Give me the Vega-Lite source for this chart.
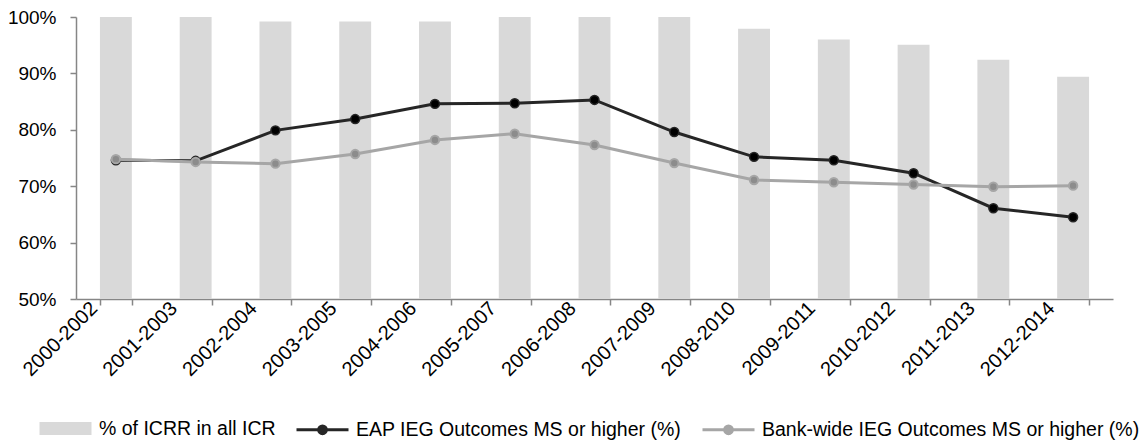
{
  "$schema": "https://vega.github.io/schema/vega-lite/v6.json",
  "autosize": {"type": "none"},
  "padding": {"left": 76, "top": 17, "right": 29, "bottom": 148},
  "width": 1037,
  "height": 282,
  "background": "white",
  "config": {
    "view": {"stroke": null},
    "font": "Liberation Sans, Arial, sans-serif",
    "axis": {
      "labelFont": "Liberation Sans, Arial, sans-serif",
      "labelFontSize": 19,
      "labelColor": "#000000",
      "domainColor": "#868686",
      "domainWidth": 1.5,
      "tickColor": "#868686",
      "tickWidth": 1.5,
      "tickSize": 6,
      "grid": false,
      "title": null
    },
    "legend": {
      "labelFont": "Liberation Sans, Arial, sans-serif",
      "labelFontSize": 19.5,
      "labelColor": "#000000",
      "labelLimit": 0,
      "padding": 0
    }
  },
  "data": {
    "values": [
      {"period": "2000-2002", "series": "% of ICRR in all ICR", "value": 100},
      {"period": "2001-2003", "series": "% of ICRR in all ICR", "value": 100},
      {"period": "2002-2004", "series": "% of ICRR in all ICR", "value": 99.2},
      {"period": "2003-2005", "series": "% of ICRR in all ICR", "value": 99.2},
      {"period": "2004-2006", "series": "% of ICRR in all ICR", "value": 99.2},
      {"period": "2005-2007", "series": "% of ICRR in all ICR", "value": 100},
      {"period": "2006-2008", "series": "% of ICRR in all ICR", "value": 100},
      {"period": "2007-2009", "series": "% of ICRR in all ICR", "value": 100},
      {"period": "2008-2010", "series": "% of ICRR in all ICR", "value": 97.9},
      {"period": "2009-2011", "series": "% of ICRR in all ICR", "value": 96.0},
      {"period": "2010-2012", "series": "% of ICRR in all ICR", "value": 95.1},
      {"period": "2011-2013", "series": "% of ICRR in all ICR", "value": 92.4},
      {"period": "2012-2014", "series": "% of ICRR in all ICR", "value": 89.4},
      {"period": "2000-2002", "series": "EAP IEG Outcomes MS or higher (%)", "value": 74.6},
      {"period": "2001-2003", "series": "EAP IEG Outcomes MS or higher (%)", "value": 74.5},
      {"period": "2002-2004", "series": "EAP IEG Outcomes MS or higher (%)", "value": 79.9},
      {"period": "2003-2005", "series": "EAP IEG Outcomes MS or higher (%)", "value": 81.9},
      {"period": "2004-2006", "series": "EAP IEG Outcomes MS or higher (%)", "value": 84.6},
      {"period": "2005-2007", "series": "EAP IEG Outcomes MS or higher (%)", "value": 84.7},
      {"period": "2006-2008", "series": "EAP IEG Outcomes MS or higher (%)", "value": 85.3},
      {"period": "2007-2009", "series": "EAP IEG Outcomes MS or higher (%)", "value": 79.6},
      {"period": "2008-2010", "series": "EAP IEG Outcomes MS or higher (%)", "value": 75.2},
      {"period": "2009-2011", "series": "EAP IEG Outcomes MS or higher (%)", "value": 74.6},
      {"period": "2010-2012", "series": "EAP IEG Outcomes MS or higher (%)", "value": 72.3},
      {"period": "2011-2013", "series": "EAP IEG Outcomes MS or higher (%)", "value": 66.1},
      {"period": "2012-2014", "series": "EAP IEG Outcomes MS or higher (%)", "value": 64.5},
      {"period": "2000-2002", "series": "Bank-wide IEG Outcomes MS or higher (%)", "value": 74.8},
      {"period": "2001-2003", "series": "Bank-wide IEG Outcomes MS or higher (%)", "value": 74.3},
      {"period": "2002-2004", "series": "Bank-wide IEG Outcomes MS or higher (%)", "value": 74.0},
      {"period": "2003-2005", "series": "Bank-wide IEG Outcomes MS or higher (%)", "value": 75.7},
      {"period": "2004-2006", "series": "Bank-wide IEG Outcomes MS or higher (%)", "value": 78.2},
      {"period": "2005-2007", "series": "Bank-wide IEG Outcomes MS or higher (%)", "value": 79.3},
      {"period": "2006-2008", "series": "Bank-wide IEG Outcomes MS or higher (%)", "value": 77.3},
      {"period": "2007-2009", "series": "Bank-wide IEG Outcomes MS or higher (%)", "value": 74.1},
      {"period": "2008-2010", "series": "Bank-wide IEG Outcomes MS or higher (%)", "value": 71.1},
      {"period": "2009-2011", "series": "Bank-wide IEG Outcomes MS or higher (%)", "value": 70.7},
      {"period": "2010-2012", "series": "Bank-wide IEG Outcomes MS or higher (%)", "value": 70.3},
      {"period": "2011-2013", "series": "Bank-wide IEG Outcomes MS or higher (%)", "value": 69.9},
      {"period": "2012-2014", "series": "Bank-wide IEG Outcomes MS or higher (%)", "value": 70.1}
    ]
  },
  "encoding": {
    "x": {
      "field": "period",
      "type": "nominal",
      "sort": null,
      "scale": {"paddingInner": 0.6, "paddingOuter": 0.3},
      "axis": {
        "tickBand": "extent",
        "labelAngle": -45,
        "labelAlign": "right",
        "labelBaseline": "bottom",
        "labelFontSize": 20,
        "labelOffset": -15,
        "labelPadding": 7
      }
    },
    "y": {
      "field": "value",
      "type": "quantitative",
      "scale": {"domain": [50, 100], "zero": false, "nice": false},
      "axis": {
        "values": [50, 60, 70, 80, 90, 100],
        "labelExpr": "datum.value + '%'",
        "labelPadding": 14
      }
    }
  },
  "layer": [
    {
      "transform": [{"filter": "datum.series === '% of ICRR in all ICR'"}],
      "mark": {"type": "bar"},
      "encoding": {
        "y2": {"datum": 50},
        "color": {
          "field": "series",
          "type": "nominal",
          "scale": {
            "domain": ["% of ICRR in all ICR", "EAP IEG Outcomes MS or higher (%)", "Bank-wide IEG Outcomes MS or higher (%)"],
            "range": ["#d9d9d9", "#262626", "#a6a6a6"]
          },
          "legend": {
            "title": null,
            "orient": "none",
            "legendX": -38,
            "legendY": 384,
            "direction": "horizontal",
            "columnPadding": 14,
            "labelOffset": 6,
            "symbolSize": 2704,
            "symbolStrokeWidth": 3,
            "symbolType": {"expr": "datum.value === '% of ICRR in all ICR' ? 'M-1,-0.25H1V0.25H-1Z' : 'M-1,0H1M-0.15,0A0.15,0.15 0 1,0 0.15,0A0.15,0.15 0 1,0 -0.15,0Z'"},
            "symbolStrokeColor": {"expr": "datum.value === '% of ICRR in all ICR' ? 'transparent' : scale('color', datum.value)"}
          }
        }
      }
    },
    {
      "transform": [{"filter": "datum.series === 'EAP IEG Outcomes MS or higher (%)'"}],
      "mark": {"type": "line", "color": "#262626", "strokeWidth": 3},
      "encoding": {}
    },
    {
      "transform": [{"filter": "datum.series === 'EAP IEG Outcomes MS or higher (%)'"}],
      "mark": {"type": "point", "filled": true, "fill": "#000000", "stroke": "#262626", "strokeWidth": 1.5, "size": 80, "opacity": 1},
      "encoding": {}
    },
    {
      "transform": [{"filter": "datum.series === 'Bank-wide IEG Outcomes MS or higher (%)'"}],
      "mark": {"type": "line", "color": "#a6a6a6", "strokeWidth": 3},
      "encoding": {}
    },
    {
      "transform": [{"filter": "datum.series === 'Bank-wide IEG Outcomes MS or higher (%)'"}],
      "mark": {"type": "point", "filled": true, "fill": "#8c8c8c", "stroke": "#a6a6a6", "strokeWidth": 2, "size": 70, "opacity": 1},
      "encoding": {}
    }
  ]
}
